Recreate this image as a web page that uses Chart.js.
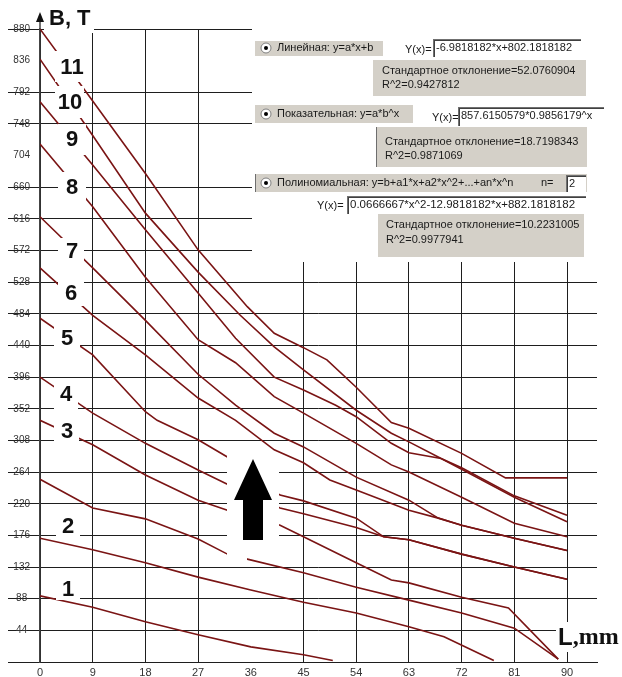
<!DOCTYPE html>
<html>
<head>
<meta charset="utf-8">
<title>B(L)</title>
<script src="https://cdn.jsdelivr.net/npm/chart.js@4.4.0/dist/chart.umd.min.js"></script>
<style>
    html, body { margin: 0; padding: 0; background: #fff; }
</style>
</head>
<body>
<canvas id="chart" width="622" height="677"></canvas>
<script>
// ========================================
// Data: L, mm (x) and B, T (y)
// ========================================
const xTicks = [0, 9, 18, 27, 36, 45, 54, 63, 72, 81, 90];
const yTicks = [0, 44, 88, 132, 176, 220, 264, 308, 352, 396, 440, 484, 528, 572, 616, 660, 704, 748, 792, 836, 880];

// each curve: [L, B] pairs
const curve1 = [[0, 92], [9, 76], [18, 56], [27, 38], [36, 21], [45, 10], [50, 2]];
const curve2 = [[0, 172], [9, 156], [18, 138], [27, 118], [36, 100], [45, 83], [54, 68], [63, 49], [69, 35], [77.5, 2]];
const curve2b = [[0, 254], [9, 214], [18, 199], [27, 171], [32, 150], [35.4, 143], [45, 124], [54, 104], [63, 86], [72, 68], [81, 47], [88.5, 4]];
const curve3 = [[0, 336], [9, 302], [18, 260], [27, 225], [32, 211], [41, 190], [45, 174], [54, 138], [60, 114], [63, 110], [72, 90], [80, 75], [88.5, 4]];
const curve4 = [[0, 396], [9, 346], [18, 304], [27, 267], [32, 247], [41, 214], [45, 206], [54, 187], [58.7, 174], [63, 170], [72, 150], [81, 132], [90, 115]];
const curve5 = [[0, 478], [9, 427], [18, 348], [20, 336], [27, 309], [32, 285], [41, 232], [45, 224], [54, 200], [58.7, 174], [63, 170], [72, 150], [81, 132], [90, 115]];
const curve6 = [[0, 548], [9, 482], [18, 427], [27, 367], [33.4, 336], [40, 295], [45, 277], [49.5, 253], [54, 239], [63, 211], [68, 200], [72, 190], [81, 172], [90, 155]];
const curve7 = [[0, 619], [9, 548], [18, 475], [27, 400], [33.4, 357], [40, 318], [45, 299], [54, 257], [63, 225], [68, 200], [72, 190], [81, 172], [90, 155]];
const curve8 = [[0, 720], [9, 633], [18, 535], [27, 448], [33.4, 416], [40, 369], [45, 346], [54, 304], [60, 274], [63, 264], [72, 229], [81, 193], [90, 174]];
const curve9 = [[0, 779], [9, 691], [18, 601], [27, 513], [33.4, 450], [40, 396], [45, 378], [50.5, 357], [54, 341], [60, 304], [63, 291], [68.5, 283], [72, 268], [81, 229], [90, 195]];
const curve10 = [[0, 838], [9, 732], [18, 624], [27, 542], [34.2, 482], [40, 438], [45, 406], [54, 350], [60, 318], [63, 306], [68.5, 283], [72, 270], [81, 231], [90, 204]];
const curve11 = [[0, 880], [9, 780], [18, 679], [27, 573], [35.4, 494], [40, 457], [45, 437], [49, 420], [54, 382], [60, 333], [63, 325], [72, 290], [79.5, 256], [90, 256]];

const curves = [curve1, curve2, curve2b, curve3, curve4, curve5, curve6, curve7, curve8, curve9, curve10, curve11];

// Curve numbers written on the plot
const curveNumbers = ['1', '2', '3', '4', '5', '6', '7', '8', '9', '10', '11'];

// Regression panel texts
const fitRows = [
    { name: 'Линейная: y=a*x+b', formula: '-6.9818182*x+802.1818182', sd: '52.0760904', r2: '0.9427812' },
    { name: 'Показательная: y=a*b^x', formula: '857.6150579*0.9856179^x', sd: '18.7198343', r2: '0.9871069' },
    { name: 'Полиномиальная: y=b+a1*x+a2*x^2+...+an*x^n', formula: '0.0666667*x^2-12.9818182*x+882.1818182', sd: '10.2231005', r2: '0.9977941' }
];
const polyDegree = '2';

// ========================================
// Drawing helpers
// ========================================
const LINE_COLOR = '#7a1414';
const GRID_COLOR = '#1e1e1e';
const PANEL_GREY = '#d4d0c8';
const SANS = '"Liberation Sans", Arial, sans-serif';

function greyBox(ctx, x, y, w, h, leftEdge) {
    ctx.fillStyle = PANEL_GREY;
    ctx.fillRect(x, y, w, h);
    if (leftEdge) {
        ctx.fillStyle = '#6e6e6e';
        ctx.fillRect(x, y, 1, h);
    }
}

function inputBox(ctx, x, y, w, h) {
    ctx.fillStyle = '#fff';
    ctx.fillRect(x, y, w, h);
    ctx.fillStyle = '#707070';
    ctx.fillRect(x, y, w, 1);
    ctx.fillRect(x, y, 1, h);
    ctx.fillStyle = '#404040';
    ctx.fillRect(x + 1, y + 1, w - 1, 1);
    ctx.fillRect(x + 1, y + 1, 1, h - 1);
}

function radio(ctx, x, y) {
    ctx.beginPath();
    ctx.arc(x, y, 5, 0, Math.PI * 2);
    ctx.fillStyle = '#fff';
    ctx.fill();
    ctx.strokeStyle = '#808080';
    ctx.lineWidth = 1;
    ctx.stroke();
    ctx.beginPath();
    ctx.arc(x, y, 2, 0, Math.PI * 2);
    ctx.fillStyle = '#000';
    ctx.fill();
}

function text(ctx, str, x, y, font, color) {
    ctx.font = font || ('11px ' + SANS);
    ctx.fillStyle = color || '#1a1a1a';
    ctx.textAlign = 'left';
    ctx.textBaseline = 'middle';
    ctx.fillText(str, x, y);
}

function drawPanel(ctx) {
    ctx.fillStyle = '#fff';
    ctx.fillRect(252, 0, 370, 262);

    // linear
    greyBox(ctx, 255, 41, 128, 15);
    radio(ctx, 266, 48);
    text(ctx, fitRows[0].name, 277, 48);
    text(ctx, 'Y(x)=', 405, 50);
    inputBox(ctx, 433, 39, 148, 18);
    text(ctx, fitRows[0].formula, 436, 48);
    greyBox(ctx, 373, 60, 213, 36);
    text(ctx, 'Стандартное отклонение=' + fitRows[0].sd, 382, 71);
    text(ctx, 'R^2=' + fitRows[0].r2, 382, 85);

    // exponential
    greyBox(ctx, 255, 105, 158, 18);
    radio(ctx, 266, 114);
    text(ctx, fitRows[1].name, 277, 114);
    text(ctx, 'Y(x)=', 432, 118);
    inputBox(ctx, 458, 107, 146, 19);
    text(ctx, fitRows[1].formula, 461, 116);
    greyBox(ctx, 376, 127, 211, 40, true);
    text(ctx, 'Стандартное отклонение=' + fitRows[1].sd, 385, 142);
    text(ctx, 'R^2=' + fitRows[1].r2, 385, 156);

    // polynomial
    greyBox(ctx, 255, 174, 332, 18, true);
    radio(ctx, 266, 183);
    text(ctx, fitRows[2].name, 277, 183);
    text(ctx, 'n=', 541, 183);
    inputBox(ctx, 566, 175, 20, 17);
    text(ctx, polyDegree, 569, 184);
    text(ctx, 'Y(x)=', 317, 206);
    inputBox(ctx, 347, 196, 239, 18);
    text(ctx, fitRows[2].formula, 350, 205, '11.5px ' + SANS);
    greyBox(ctx, 378, 214, 206, 43);
    text(ctx, 'Стандартное отклонение=' + fitRows[2].sd, 386, 225);
    text(ctx, 'R^2=' + fitRows[2].r2, 386, 240);
}

// white patches behind the curve numbers: [cx, cy, x0, y0, x1, y1]
const numberSpots = [
    [68, 589, 56, 577, 80, 600],
    [68, 526, 56, 513, 80, 536],
    [67, 431, 54, 418, 79, 446],
    [66, 394, 54, 381, 78, 414],
    [67, 338, 54, 325, 80, 350],
    [71, 293, 58, 280, 84, 306],
    [72, 251, 58, 238, 84, 263],
    [72, 187, 58, 172, 86, 200],
    [72, 139, 58, 124, 86, 155],
    [70, 102, 55, 86, 84, 118],
    [72, 67, 55, 51, 86, 82]
];

const overlay = {
    id: 'overlay',
    afterDatasetsDraw(chart) {
        const ctx = chart.ctx;
        ctx.save();

        // patches that hide grid and curves
        ctx.fillStyle = '#fff';
        numberSpots.forEach(s => ctx.fillRect(s[2], s[3], s[4] - s[2], s[5] - s[3]));
        ctx.fillRect(44, 2, 50, 31);       // B, T
        ctx.fillRect(227, 453, 52, 99);    // arrow
        ctx.fillRect(227, 552, 20, 10);
        ctx.fillRect(556, 622, 66, 30);    // L,mm

        // curve numbers
        ctx.font = 'bold 22px ' + SANS;
        ctx.fillStyle = '#111';
        ctx.textAlign = 'center';
        ctx.textBaseline = 'middle';
        curveNumbers.forEach((n, i) => ctx.fillText(n, numberSpots[i][0], numberSpots[i][1] + 1));

        // axis titles
        ctx.textAlign = 'left';
        ctx.font = 'bold 22px ' + SANS;
        ctx.fillText('B, T', 49, 19);
        ctx.font = 'bold 24px ' + SANS;
        ctx.fillText('L', 558, 638);
        const lw = ctx.measureText('L').width;
        ctx.font = 'bold 24px "Liberation Serif", "Times New Roman", serif';
        ctx.fillText(',mm', 558 + lw, 638);

        // y axis arrow head
        const xa = chart.scales.x.left;
        ctx.strokeStyle = '#444';
        ctx.lineWidth = 1.5;
        ctx.beginPath();
        ctx.moveTo(xa, 20);
        ctx.lineTo(xa, chart.chartArea.top);
        ctx.stroke();
        ctx.fillStyle = '#111';
        ctx.beginPath();
        ctx.moveTo(xa, 12);
        ctx.lineTo(xa - 4, 22);
        ctx.lineTo(xa + 4, 22);
        ctx.closePath();
        ctx.fill();

        // big arrow
        ctx.fillStyle = '#000';
        ctx.beginPath();
        ctx.moveTo(253, 459);
        ctx.lineTo(272, 500);
        ctx.lineTo(263, 500);
        ctx.lineTo(263, 540);
        ctx.lineTo(243, 540);
        ctx.lineTo(243, 500);
        ctx.lineTo(234, 500);
        ctx.closePath();
        ctx.fill();

        drawPanel(ctx);
        ctx.restore();
    }
};

// ========================================
// Chart
// ========================================
document.addEventListener('DOMContentLoaded', function () {
    const ctx = document.getElementById('chart');

    new Chart(ctx, {
        type: 'line',
        data: {
            datasets: curves.map(c => ({
                data: c.map(p => ({ x: p[0], y: p[1] })),
                borderColor: LINE_COLOR,
                borderWidth: 1.6,
                pointRadius: 0,
                tension: 0,
                fill: false
            }))
        },
        options: {
            responsive: false,
            animation: false,
            layout: { padding: { top: 29, right: 25, bottom: 0, left: 0 } },
            plugins: {
                legend: { display: false },
                tooltip: { enabled: false }
            },
            scales: {
                x: {
                    type: 'linear',
                    min: 0,
                    max: 95.12,
                    afterBuildTicks: scale => { scale.ticks = xTicks.map(v => ({ value: v })); },
                    afterFit: scale => { scale.height = 15; },
                    grid: {
                        color: c => (c.tick && c.tick.value === 36) ? 'rgba(0,0,0,0)' : GRID_COLOR,
                        lineWidth: 1,
                        drawTicks: false
                    },
                    border: { color: GRID_COLOR, width: 1 },
                    ticks: {
                        autoSkip: false,
                        maxRotation: 0,
                        padding: 4,
                        color: '#333',
                        font: { family: SANS, size: 11 }
                    }
                },
                y: {
                    type: 'linear',
                    min: 0,
                    max: 880,
                    afterBuildTicks: scale => { scale.ticks = yTicks.map(v => ({ value: v })); },
                    afterFit: scale => { scale.width = 40; },
                    grid: {
                        color: c => (c.tick && (c.tick.value === 836 || c.tick.value === 704)) ? 'rgba(0,0,0,0)' : GRID_COLOR,
                        lineWidth: 1,
                        tickLength: 32
                    },
                    border: { color: '#444', width: 1.5 },
                    ticks: {
                        autoSkip: false,
                        crossAlign: 'center',
                        padding: -22,
                        color: '#333',
                        font: { family: SANS, size: 10 },
                        callback: v => (v === 0 ? '' : v)
                    }
                }
            }
        },
        plugins: [overlay]
    });
});
</script>
</body>
</html>
